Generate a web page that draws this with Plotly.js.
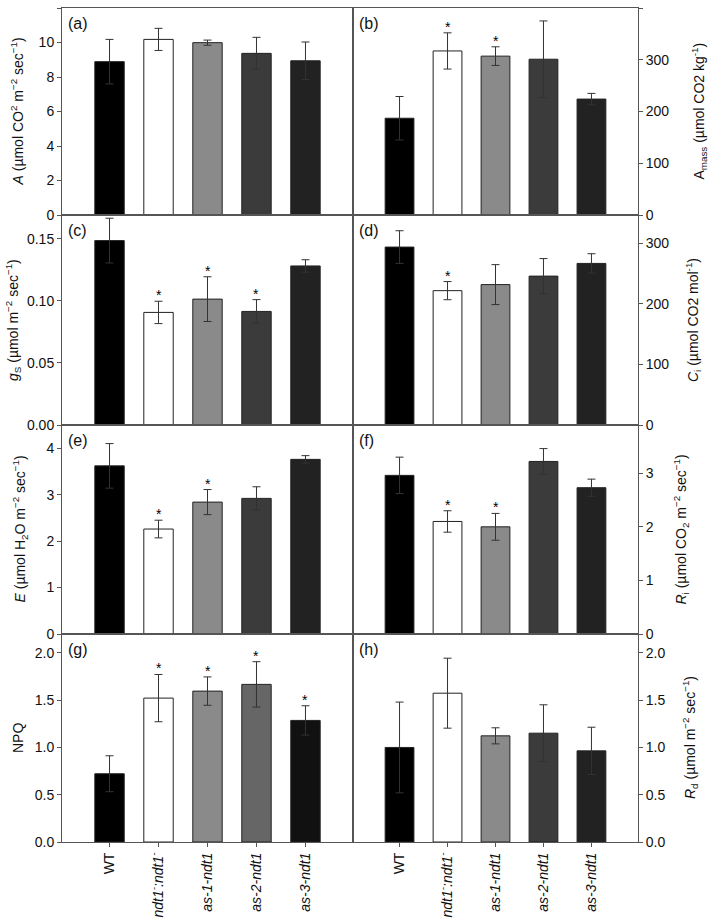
<!DOCTYPE html>
<html>
<head>
<meta charset="utf-8">
<script src="https://cdn.plot.ly/plotly-3.0.1.min.js"></script>
<style>html,body{margin:0;padding:0;background:#fff;}#chart{width:709px;height:920px;}</style>
</head>
<body>
<div id="chart"></div>
<script>
const categories = ['WT', 'ndt1-:ndt1-', 'as-1-ndt1', 'as-2-ndt1', 'as-3-ndt1'];
const tickLabels = ['WT', '<i>ndt1<sup>-</sup>:ndt1<sup>-</sup></i>', '<i>as-1-ndt1</i>', '<i>as-2-ndt1</i>', '<i>as-3-ndt1</i>'];

// (a) A
const A_mean = [8.89, 10.18, 9.99, 9.37, 8.94];
const A_err = [1.29, 0.64, 0.15, 0.93, 1.09];
const A_star = [0, 0, 0, 0, 0];
// (b) Amass
const Amass_mean = [187, 317, 307, 301, 224];
const Amass_err = [42, 35, 18, 74, 11];
const Amass_star = [0, 1, 1, 0, 0];
// (c) gs
const gs_mean = [0.1484, 0.0906, 0.1013, 0.0914, 0.128];
const gs_err = [0.018, 0.009, 0.018, 0.0095, 0.005];
const gs_star = [0, 1, 1, 1, 0];
// (d) Ci
const Ci_mean = [294, 222, 232, 246, 267];
const Ci_err = [27, 15, 33, 29, 16];
const Ci_star = [0, 1, 0, 0, 0];
// (e) E
const E_mean = [3.62, 2.26, 2.84, 2.92, 3.76];
const E_err = [0.48, 0.19, 0.27, 0.25, 0.08];
const E_star = [0, 1, 1, 0, 0];
// (f) Ri
const Ri_mean = [2.96, 2.10, 2.00, 3.22, 2.73];
const Ri_err = [0.34, 0.20, 0.25, 0.24, 0.16];
const Ri_star = [0, 1, 1, 0, 0];
// (g) NPQ
const NPQ_mean = [0.722, 1.522, 1.596, 1.667, 1.286];
const NPQ_err = [0.19, 0.25, 0.15, 0.24, 0.155];
const NPQ_star = [0, 1, 1, 1, 1];
// (h) Rd
const Rd_mean = [1.00, 1.574, 1.123, 1.151, 0.964];
const Rd_err = [0.48, 0.37, 0.085, 0.30, 0.25];
const Rd_star = [0, 0, 0, 0, 0];

const barColors = ['#000000', '#ffffff', '#8a8a8a', '#3b3b3b', '#222222'];
const barColorsNPQ = ['#000000', '#ffffff', '#8a8a8a', '#666666', '#111111'];

const panels = [
  {lab: '(a)', m: A_mean, e: A_err, s: A_star, range: [0, 12], dtick: 2, fmt: 'd', title: '<i>A</i> (µmol CO<sup>2</sup> m<sup>−2</sup> sec<sup>−1</sup>)', tx: -45, colors: barColors},
  {lab: '(b)', m: Amass_mean, e: Amass_err, s: Amass_star, range: [0, 400], dtick: 100, fmt: 'd', title: 'A<sub>mass</sub> (µmol CO2 kg<sup>-1</sup>)', tx: 61, colors: barColors},
  {lab: '(c)', m: gs_mean, e: gs_err, s: gs_star, range: [0, 0.169], dtick: 0.05, fmt: '.2f', title: '<i>g</i><sub>S</sub> (µmol m<sup>−2</sup> sec<sup>−1</sup>)', tx: -49, colors: barColors},
  {lab: '(d)', m: Ci_mean, e: Ci_err, s: Ci_star, range: [0, 347], dtick: 100, fmt: 'd', title: '<i>C</i><sub>i</sub> (µmol CO2 mol<sup>-1</sup>)', tx: 55, colors: barColors},
  {lab: '(e)', m: E_mean, e: E_err, s: E_star, range: [0, 4.5], dtick: 1, fmt: 'd', title: '<i>E</i> (µmol H<sub>2</sub>O m<sup>−2</sup> sec<sup>−1</sup>)', tx: -42, colors: barColors},
  {lab: '(f)', m: Ri_mean, e: Ri_err, s: Ri_star, range: [0, 3.9], dtick: 1, fmt: 'd', title: '<i>R</i><sub>i</sub> (µmol CO<sub>2</sub> m<sup>−2</sup> sec<sup>−1</sup>)', tx: 43, colors: barColors},
  {lab: '(g)', m: NPQ_mean, e: NPQ_err, s: NPQ_star, range: [0, 2.2], dtick: 0.5, fmt: '.1f', title: 'NPQ', tx: -44, colors: barColorsNPQ},
  {lab: '(h)', m: Rd_mean, e: Rd_err, s: Rd_star, range: [0, 2.2], dtick: 0.5, fmt: '.1f', title: '<i>R</i><sub>d</sub> (µmol m<sup>−2</sup> sec<sup>−1</sup>)', tx: 52, colors: barColors}
];

const W = 709, H = 920;
const mL = 62, mR = 71, mT = 8, mB = 78;
const pw = W - mL - mR, ph = H - mT - mB;
const xSplit = 353;
const colDomains = [[0, (xSplit - mL) / pw], [(xSplit - mL) / pw, 1]];
const rowEdges = [8, 215, 425, 634, 842];
const rowDomains = [];
for (let r = 0; r < 4; r++) {
  rowDomains.push([(H - mB - rowEdges[r + 1]) / ph, (H - mB - rowEdges[r]) / ph]);
}

const fam = 'Liberation Sans, Arial, Helvetica, sans-serif';
const font = {family: fam, size: 14, color: '#111'};
const lineCol = '#555';
const traces = [];
const layout = {
  width: W, height: H,
  margin: {l: mL, r: mR, t: mT, b: mB},
  paper_bgcolor: '#fff', plot_bgcolor: '#fff',
  showlegend: false,
  font: font,
  annotations: []
};

panels.forEach((p, i) => {
  const n = i + 1;
  const row = Math.floor(i / 2), col = i % 2;
  const xa = 'x' + (n === 1 ? '' : n), ya = 'y' + (n === 1 ? '' : n);
  traces.push({
    type: 'bar', x: categories, y: p.m, xaxis: xa, yaxis: ya, width: 0.6,
    marker: {color: p.colors, line: {color: '#222', width: 1}},
    error_y: {type: 'data', array: p.e, visible: true, color: '#333', thickness: 1, width: 4},
    hoverinfo: 'none'
  });
  p.s.forEach((v, k) => {
    if (v) {
      layout.annotations.push({
        xref: xa, yref: ya, x: categories[k], y: p.m[k] + p.e[k],
        xanchor: 'center', yanchor: 'middle', yshift: 6, showarrow: false,
        text: '*', font: {size: 14, color: '#000', family: fam}
      });
    }
  });
  const isBottom = row === 3;
  layout['xaxis' + (n === 1 ? '' : n)] = {
    domain: colDomains[col], anchor: ya, type: 'category',
    categoryorder: 'array', categoryarray: categories,
    range: [-0.97, 4.97], showline: true, mirror: true, linecolor: lineCol, linewidth: 1,
    showgrid: false, zeroline: false, fixedrange: true,
    ticks: isBottom ? 'outside' : '', ticklen: 4, tickcolor: lineCol,
    showticklabels: isBottom, tickmode: 'array', tickvals: categories, ticktext: tickLabels,
    tickangle: -90, tickfont: {size: 14, color: '#111'}, automargin: false
  };
  layout['yaxis' + (n === 1 ? '' : n)] = {
    domain: rowDomains[row], anchor: xa, side: col === 0 ? 'left' : 'right',
    range: p.range, dtick: p.dtick, tick0: 0, tickformat: p.fmt,
    showline: true, mirror: true, linecolor: lineCol, linewidth: 1,
    showgrid: false, zeroline: false, fixedrange: true,
    ticks: 'outside', ticklen: 4, tickcolor: lineCol, tickfont: {size: 14, color: '#111'},
    automargin: false
  };
  layout.annotations.push({
    xref: xa + ' domain', yref: ya + ' domain', x: col === 0 ? 0 : 1, y: 0.5,
    xshift: p.tx, xanchor: 'center', yanchor: 'middle', textangle: -90,
    showarrow: false, text: p.title, font: {size: 14, color: '#111', family: fam}
  });
  layout.annotations.push({
    xref: xa + ' domain', yref: ya + ' domain', x: 0.015, y: 0.975,
    xanchor: 'left', yanchor: 'top', showarrow: false, text: p.lab,
    font: {size: 16, color: '#111', family: fam}
  });
});

Plotly.newPlot('chart', traces, layout, {staticPlot: true, displayModeBar: false});
</script>
</body>
</html>
